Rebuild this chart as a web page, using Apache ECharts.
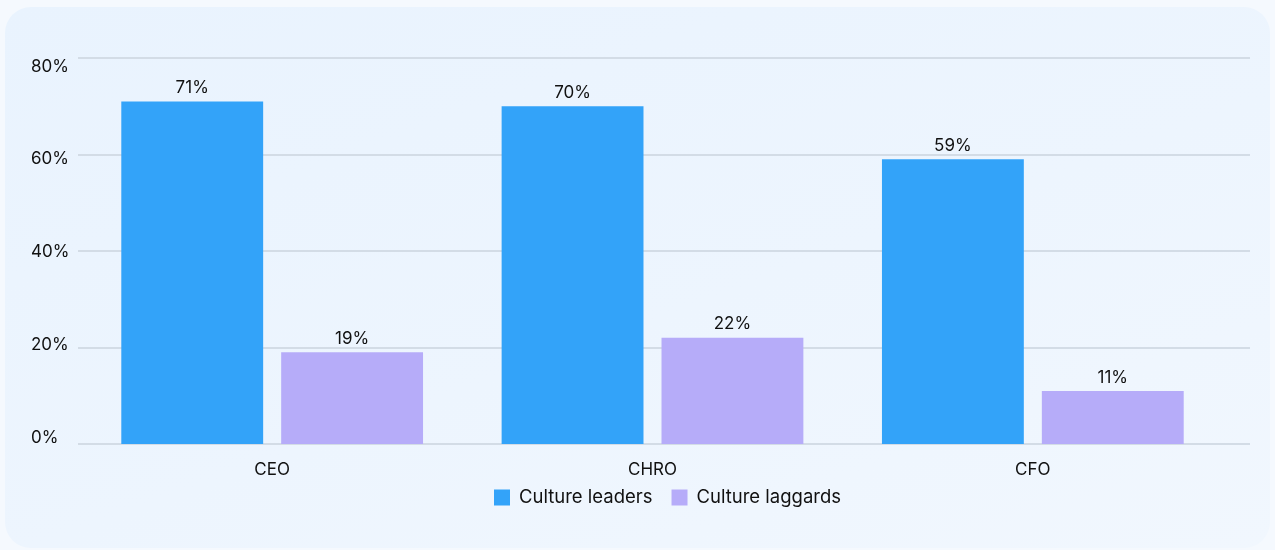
<!DOCTYPE html>
<html>
<head>
<meta charset="utf-8">
<script src="https://cdn.jsdelivr.net/npm/echarts@6/dist/echarts.min.js"></script>
<style>
  html, body { margin: 0; padding: 0; width: 1275px; height: 550px; background: #f5f9fe; overflow: hidden; }
  #card {
    position: absolute; left: 5px; top: 7px; width: 1265px; height: 541px;
    border-radius: 26px;
    background: linear-gradient(160deg, #e9f3fe 0%, #edf5fe 55%, #f1f7fe 100%);
  }
  #chart { position: absolute; left: 0; top: 0; width: 1275px; height: 550px; }
</style>
</head>
<body>
<div id="card"></div>
<div id="chart"></div>
<script>
// Share of respondents naming each role, by culture group
const categories = ['CEO', 'CHRO', 'CFO'];
const cultureLeaders = [71, 70, 59];
const cultureLaggards = [19, 22, 11];
const yTicks = [0, 20, 40, 60, 80];

const FONT = 'Inter, "Noto Sans", sans-serif';
const TEXT = '#111';
const yMin = yTicks[0];
const yMax = yTicks[yTicks.length - 1];
const yStep = yTicks[1] - yTicks[0];

const valueLabel = {
  show: true, position: 'top', distance: 5,
  color: TEXT, fontSize: 17, fontFamily: FONT, formatter: '{c}%'
};

const chart = echarts.init(document.getElementById('chart'), null, { renderer: 'canvas' });
chart.setOption({
  backgroundColor: 'transparent',
  textStyle: { fontFamily: FONT },
  grid: [
    // full-width grid carrying the horizontal guide lines
    { left: 78, right: 25, top: 58, bottom: 106 },
    // plotting area for the bars
    { left: 82, right: 52, top: 58, bottom: 106 },
    // tick label column
    { left: 78, right: 25, top: 66.5, bottom: 112 }
  ],
  legend: {
    left: 494,
    top: 488,
    padding: 0,
    itemWidth: 16,
    itemHeight: 16,
    itemGap: 19,
    icon: 'rect',
    textStyle: { fontSize: 18.5, color: TEXT, fontFamily: FONT, padding: [0, 0, 0, 4] },
    data: ['Culture leaders', 'Culture laggards']
  },
  xAxis: [
    { gridIndex: 0, type: 'category', data: categories, show: false },
    {
      gridIndex: 1, type: 'category', data: categories,
      axisLine: { show: false },
      axisTick: { show: false },
      axisLabel: { color: TEXT, fontSize: 17, margin: 17, fontFamily: FONT }
    },
    { gridIndex: 2, type: 'category', data: categories, show: false }
  ],
  yAxis: [
    {
      gridIndex: 0, type: 'value', min: yMin, max: yMax, interval: yStep,
      axisLine: { show: false }, axisTick: { show: false }, axisLabel: { show: false },
      splitLine: { lineStyle: { color: '#d3dce6', width: 2 } }
    },
    {
      gridIndex: 1, type: 'value', min: yMin, max: yMax, interval: yStep,
      axisLine: { show: false }, axisTick: { show: false }, axisLabel: { show: false },
      splitLine: { show: false }
    },
    {
      gridIndex: 2, type: 'value', min: yMin, max: yMax, interval: yStep,
      axisLine: { show: false }, axisTick: { show: false }, splitLine: { show: false },
      axisLabel: {
        color: TEXT, fontSize: 17, align: 'left', margin: 47, fontFamily: FONT,
        formatter: v => v + '%'
      }
    }
  ],
  series: [
    {
      name: 'Culture leaders',
      type: 'bar',
      xAxisIndex: 1, yAxisIndex: 1,
      data: cultureLeaders,
      barWidth: '37.3%',
      barGap: '12.7%',
      itemStyle: { color: '#33a3f9' },
      label: valueLabel
    },
    {
      name: 'Culture laggards',
      type: 'bar',
      xAxisIndex: 1, yAxisIndex: 1,
      data: cultureLaggards,
      barWidth: '37.3%',
      itemStyle: { color: '#b6acf9' },
      label: valueLabel
    }
  ]
});
</script>
</body>
</html>
